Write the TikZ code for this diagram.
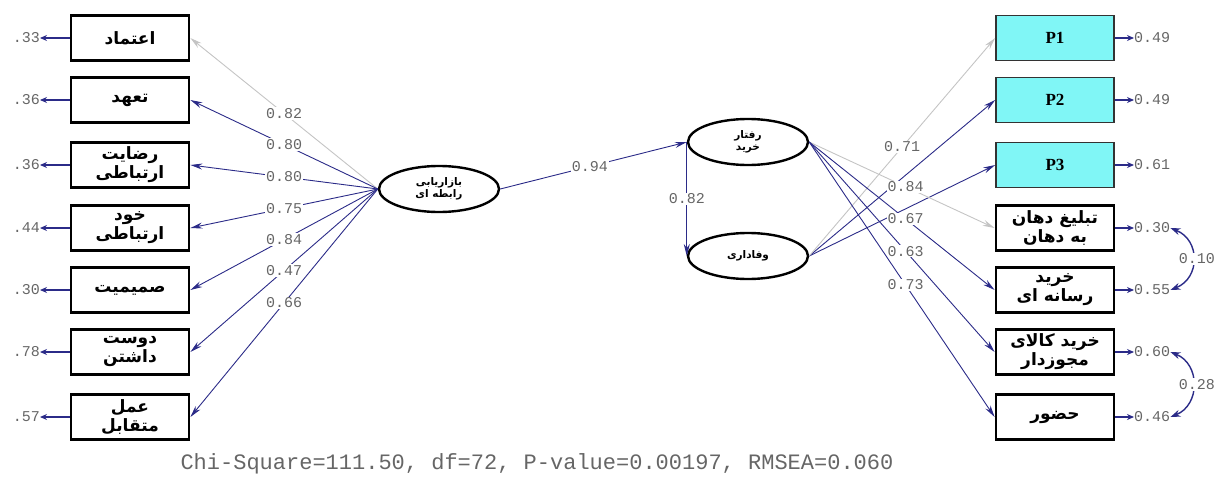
\documentclass[tikz,border=0pt]{standalone}
\usepackage{fontspec}
\setmainfont{Liberation Serif}
\newfontfamily\farsifont[Script=Arabic]{DejaVu Sans}
\newfontfamily\lisrelfont{Liberation Mono}
\TeXXeTstate=1
\usetikzlibrary{arrows.meta, shapes.geometric}
\definecolor{pathblu}{HTML}{2B2B88}
\definecolor{refgray}{HTML}{C4C4C4}
\definecolor{valgray}{HTML}{666666}
\definecolor{pcyan}{HTML}{80F6F6}
\newcommand{\fatext}[1]{\beginR#1\endR}

\tikzset{
  obsbox/.style={draw, line width=2.8pt, minimum width=118pt, minimum height=45pt, align=center, inner sep=0pt, font=\farsifont\bfseries\fontsize{17}{19}\selectfont},
  pbox/.style={obsbox, fill=pcyan, line width=1.6pt, draw=black!80, font=\bfseries\fontsize{17}{19}\selectfont},
  latent/.style={ellipse, draw, line width=2.4pt, minimum width=120pt, minimum height=46pt, align=center, inner sep=0pt, font=\farsifont\bfseries\fontsize{10.5}{11.5}\selectfont},
  load/.style={pathblu, line width=0.9pt, -{Stealth[length=12pt,width=6pt]}},
  refload/.style={load, refgray},
  coef/.style={fill=white, inner sep=1pt, text=valgray, font=\lisrelfont\fontsize{15}{15}\selectfont},
  errval/.style={inner sep=0pt, text=valgray, font=\lisrelfont\fontsize{15}{15}\selectfont},
  errarr/.style={pathblu, line width=1.8pt, -{Stealth[length=7pt,width=6pt]}},
  covarr/.style={pathblu, line width=1.4pt, {Stealth[length=10pt,width=7pt]}-{Stealth[length=10pt,width=7pt]}}
}

\begin{document}
\begin{tikzpicture}[x=1pt, y=-1pt]
\useasboundingbox (0,0) rectangle (1220,479);

% indicators of relationship marketing
\node[obsbox] (trust) at (130,38) {\fatext{اعتماد}};
\node[obsbox] (commit) at (130,100) {\fatext{تعهد}};
\node[obsbox] (satisf) at (130,165) {\fatext{رضایت}\\\fatext{ارتباطی}};
\node[obsbox] (selfdis) at (130,228) {\fatext{خود}\\\fatext{ارتباطی}};
\node[obsbox] (intim) at (130,290) {\fatext{صمیمیت}};
\node[obsbox] (liking) at (130,352) {\fatext{دوست}\\\fatext{داشتن}};
\node[obsbox] (recip) at (130,417) {\fatext{عمل}\\\fatext{متقابل}};

% indicators of loyalty and buying behaviour
\node[pbox] (pa) at (1055,38) {P1};
\node[pbox] (pb) at (1055,100) {P2};
\node[pbox] (pc) at (1055,165) {P3};
\node[obsbox] (wom) at (1055,228) {\fatext{تبلیغ دهان}\\\fatext{به دهان}};
\node[obsbox] (media) at (1055,290) {\fatext{خرید}\\\fatext{رسانه ای}};
\node[obsbox] (licens) at (1055,352) {\fatext{خرید کالای}\\\fatext{مجوزدار}};
\node[obsbox] (attend) at (1055,417) {\fatext{حضور}};

% latent variables
\node[latent] (relmkt) at (439,189) {\fatext{بازاریابی}\\\fatext{رابطه ای}};
\node[latent] (buybeh) at (748,142) {\fatext{رفتار}\\\fatext{خرید}};
\node[latent] (loyal) at (748,256) {\fatext{وفاداری}};

% loadings, left
\draw[refload] (relmkt.west) -- node[coef, pos=0.5] {0.82} (trust.east);
\draw[load] (relmkt.west) -- node[coef, pos=0.5] {0.80} (commit.east);
\draw[load] (relmkt.west) -- node[coef, pos=0.5] {0.80} (satisf.east);
\draw[load] (relmkt.west) -- node[coef, pos=0.5] {0.75} (selfdis.east);
\draw[load] (relmkt.west) -- node[coef, pos=0.5] {0.84} (intim.east);
\draw[load] (relmkt.west) -- node[coef, pos=0.5] {0.47} (liking.east);
\draw[load] (relmkt.west) -- node[coef, pos=0.5] {0.66} (recip.east);

% structural paths
\draw[load] (relmkt.east) -- node[coef, pos=0.48] {0.94} (buybeh.west);
\draw[load] (buybeh.west) -- node[coef] {0.82} (loyal.west);

% loadings, right
\draw[load] (loyal.east) -- (pb.west);
\draw[load] (loyal.east) -- (pc.west);
\draw[refload] (loyal.east) -- node[coef, pos=0.5] {0.71} (pa.west);
\draw[refload] (buybeh.east) -- node[coef, pos=0.52] {0.84} (wom.west);
\draw[load] (buybeh.east) -- node[coef, pos=0.52] {0.67} (media.west);
\draw[load] (buybeh.east) -- node[coef, pos=0.52] {0.63} (licens.west);
\draw[load] (buybeh.east) -- node[coef, pos=0.52] {0.73} (attend.west);

% error terms, left
\node[errval, anchor=east] (etrust) at (40,38) {.33};
\node[errval, anchor=east] (ecommit) at (40,100) {.36};
\node[errval, anchor=east] (esatisf) at (40,165) {.36};
\node[errval, anchor=east] (eselfdis) at (40,228) {.44};
\node[errval, anchor=east] (eintim) at (40,290) {.30};
\node[errval, anchor=east] (eliking) at (40,352) {.78};
\node[errval, anchor=east] (erecip) at (40,417) {.57};
\draw[errarr] (trust.west) -- (etrust.east);
\draw[errarr] (commit.west) -- (ecommit.east);
\draw[errarr] (satisf.west) -- (esatisf.east);
\draw[errarr] (selfdis.west) -- (eselfdis.east);
\draw[errarr] (intim.west) -- (eintim.east);
\draw[errarr] (liking.west) -- (eliking.east);
\draw[errarr] (recip.west) -- (erecip.east);

% error terms, right
\node[errval, anchor=west] (epa) at (1134,38) {0.49};
\node[errval, anchor=west] (epb) at (1134,100) {0.49};
\node[errval, anchor=west] (epc) at (1134,165) {0.61};
\node[errval, anchor=west] (ewom) at (1134,228) {0.30};
\node[errval, anchor=west] (emedia) at (1134,290) {0.55};
\node[errval, anchor=west] (elicens) at (1134,352) {0.60};
\node[errval, anchor=west] (eattend) at (1134,417) {0.46};
\draw[errarr] (pa.east) -- (epa.west);
\draw[errarr] (pb.east) -- (epb.west);
\draw[errarr] (pc.east) -- (epc.west);
\draw[errarr] (wom.east) -- (ewom.west);
\draw[errarr] (media.east) -- (emedia.west);
\draw[errarr] (licens.east) -- (elicens.west);
\draw[errarr] (attend.east) -- (eattend.west);

% error covariances
\draw[covarr] (ewom.east) .. controls +(30,12) and +(30,-12) .. node[coef, xshift=4pt] {0.10} (emedia.east);
\draw[covarr] (elicens.east) .. controls +(30,12) and +(30,-12) .. node[coef, xshift=4pt] {0.28} (eattend.east);

\node[text=valgray, font=\lisrelfont\fontsize{22}{22}\selectfont] (fit) at (537,464) {Chi-Square=111.50, df=72, P-value=0.00197, RMSEA=0.060};
\end{tikzpicture}
\end{document}
